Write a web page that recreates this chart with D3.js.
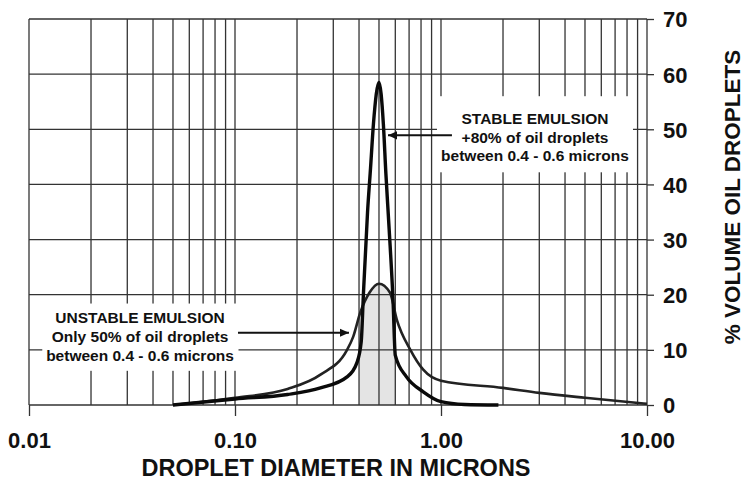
<!DOCTYPE html>
<html lang="en">
<head>
  <meta charset="UTF-8" />
  <title>Droplet size distribution</title>
  <style>
  body {
    margin: 0;
    background: #fff;
  }
  svg {
    display: block;
    font-family: "Liberation Sans", Arial, Helvetica, sans-serif;
    font-weight: bold;
  }
  </style>
  <script src="https://d3js.org/d3.v7.min.js"></script>
</head>
<body>
  <div id="chart"></div>
  <script>
    // Axis ticks
    const diameterTicks = [0.01, 0.1, 1, 10];
    const diameterLabels = ["0.01", "0.10", "1.00", "10.00"];
    const volumeTicks = [0, 10, 20, 30, 40, 50, 60, 70];

    // Stable emulsion curve
    const stableDiameter = [0.05, 0.1, 0.18, 0.26, 0.35, 0.39, 0.41, 0.42, 0.44, 0.455, 0.47, 0.5, 0.525, 0.54, 0.56, 0.585, 0.6, 0.68, 0.82, 1.0, 1.3, 1.9];
    const stableVolume = [0, 1.1, 1.9, 3.1, 5.1, 7.6, 11.5, 20, 35, 43, 51, 58.5, 51, 42, 32, 19, 9, 5.1, 2.4, 0.6, 0.1, 0];

    // Unstable emulsion curve
    const unstableDiameter = [0.05, 0.1, 0.18, 0.26, 0.35, 0.375, 0.405, 0.45, 0.5, 0.565, 0.61, 0.71, 0.82, 1.0, 2.0, 3.0, 5.0, 10];
    const unstableVolume = [0, 1.3, 2.9, 5.5, 10, 12.4, 16.7, 20.4, 22, 20.4, 15.5, 10, 6.4, 4.4, 3.1, 2.2, 1.3, 0.2];

    // Shaded band
    const bandRange = [0.4, 0.6];

    // Annotations (positions in data units)
    const stableNote = ["STABLE EMULSION", "+80% of oil droplets", "between 0.4 - 0.6 microns"];
    const unstableNote = ["UNSTABLE EMULSION", "Only 50% of oil droplets", "between 0.4 - 0.6 microns"];
    const notes = [
      { lines: stableNote, textX: 2.86, textY: 47.6, box: [0.956, 8.55, 56, 42.2], arrow: [1.13, 0.553, 48.9] },
      { lines: unstableNote, textX: 0.0346, textY: 11.45, box: [0.0116, 0.104, 18.4, 6.2], arrow: [0.1034, 0.3575, 13.1] }
    ];

    const width = 745, height = 481;
    const margin = { top: 19, right: 98, bottom: 76, left: 29 };

    const svg = d3.select("#chart").append("svg")
      .attr("width", width)
      .attr("height", height);

    const x = d3.scaleLog()
      .domain([0.01, 10])
      .range([margin.left, width - margin.right]);

    const y = d3.scaleLinear()
      .domain([0, 70])
      .range([height - margin.bottom, margin.top]);

    const stable = stableDiameter.map((d, i) => [d, stableVolume[i]]);
    const unstable = unstableDiameter.map((d, i) => [d, unstableVolume[i]]);

    const line = d3.line()
      .x(d => x(d[0]))
      .y(d => y(d[1]))
      .curve(d3.curveMonotoneX);

    const area = d3.area()
      .x(d => x(d[0]))
      .y0(y(0))
      .y1(d => y(d[1]))
      .curve(d3.curveMonotoneX);

    // Shaded 0.4 - 0.6 band under the unstable curve
    svg.append("clipPath").attr("id", "band")
      .append("rect")
      .attr("x", x(bandRange[0]))
      .attr("width", x(bandRange[1]) - x(bandRange[0]))
      .attr("y", y(70))
      .attr("height", y(0) - y(70));

    svg.append("path")
      .datum(unstable)
      .attr("clip-path", "url(#band)")
      .attr("d", area)
      .attr("fill", "#e4e4e4");

    // Log grid
    const gridX = [];
    [0.01, 0.1, 1].forEach(dec => d3.range(1, 10).forEach(k => gridX.push(dec * k)));
    gridX.push(10);

    const grid = svg.append("g")
      .attr("stroke", "#333")
      .attr("stroke-width", 1.3);

    grid.selectAll(".vgrid")
      .data(gridX)
      .enter().append("line")
      .attr("class", "vgrid")
      .attr("x1", d => x(d))
      .attr("x2", d => x(d))
      .attr("y1", y(70))
      .attr("y2", y(0));

    grid.selectAll(".hgrid")
      .data(volumeTicks)
      .enter().append("line")
      .attr("class", "hgrid")
      .attr("x1", x(0.01))
      .attr("x2", x(10))
      .attr("y1", d => y(d))
      .attr("y2", d => y(d));

    // White label boxes over the grid
    svg.selectAll(".note-box")
      .data(notes)
      .enter().append("rect")
      .attr("class", "note-box")
      .attr("x", d => x(d.box[0]))
      .attr("width", d => x(d.box[1]) - x(d.box[0]))
      .attr("y", d => y(d.box[2]))
      .attr("height", d => y(d.box[3]) - y(d.box[2]))
      .attr("fill", "#fff");

    // Axes
    const xAxis = svg.append("g")
      .attr("transform", `translate(0,${y(0)})`)
      .call(d3.axisBottom(x)
        .tickValues(diameterTicks)
        .tickFormat((d, i) => diameterLabels[i])
        .tickSize(11)
        .tickPadding(16));
    xAxis.select(".domain").remove();
    xAxis.selectAll("line").attr("stroke", "#333").attr("stroke-width", 1.3);
    xAxis.selectAll("text")
      .attr("fill", "#111")
      .style("font-family", "'Liberation Sans', Arial, sans-serif")
      .style("font-weight", "bold")
      .style("font-size", "22px");

    const yAxis = svg.append("g")
      .attr("transform", `translate(${x(10)},0)`)
      .call(d3.axisRight(y)
        .tickValues(volumeTicks)
        .tickSize(7)
        .tickPadding(9));
    yAxis.select(".domain").remove();
    yAxis.selectAll("line").attr("stroke", "#333").attr("stroke-width", 1.3);
    yAxis.selectAll("text")
      .attr("fill", "#111")
      .attr("dy", "0.36em")
      .style("font-family", "'Liberation Sans', Arial, sans-serif")
      .style("font-weight", "bold")
      .style("font-size", "22px");

    // Curves
    svg.append("path")
      .datum(unstable)
      .attr("d", line)
      .attr("fill", "none")
      .attr("stroke", "#222")
      .attr("stroke-width", 2.6);

    svg.append("path")
      .datum(stable)
      .attr("d", line)
      .attr("fill", "none")
      .attr("stroke", "#0a0a0a")
      .attr("stroke-width", 3.4)
      .attr("stroke-linejoin", "round");

    // Arrows
    svg.append("defs").append("marker")
      .attr("id", "head")
      .attr("viewBox", "0 -5 10 10")
      .attr("refX", 10)
      .attr("markerUnits", "userSpaceOnUse")
      .attr("markerWidth", 10)
      .attr("markerHeight", 9)
      .attr("orient", "auto")
      .append("path")
      .attr("d", "M0,-4.5L10,0L0,4.5Z")
      .attr("fill", "#111");

    svg.selectAll(".note-arrow")
      .data(notes)
      .enter().append("line")
      .attr("class", "note-arrow")
      .attr("x1", d => x(d.arrow[0]))
      .attr("x2", d => x(d.arrow[1]))
      .attr("y1", d => y(d.arrow[2]))
      .attr("y2", d => y(d.arrow[2]))
      .attr("stroke", "#111")
      .attr("stroke-width", 2)
      .attr("marker-end", "url(#head)");

    // Annotation text
    notes.forEach(n => {
      svg.append("g")
        .selectAll("text")
        .data(n.lines)
        .enter().append("text")
        .attr("x", x(n.textX))
        .attr("y", (d, i) => y(n.textY) + (i - 1) * 18.8)
        .attr("text-anchor", "middle")
        .attr("fill", "#111")
        .style("font-size", "15.5px")
        .text(d => d);
    });

    // Axis titles
    svg.append("text")
      .attr("x", 336)
      .attr("y", 476)
      .attr("text-anchor", "middle")
      .attr("fill", "#111")
      .style("font-size", "23.5px")
      .text("DROPLET DIAMETER IN MICRONS");

    svg.append("text")
      .attr("transform", "translate(740,197) rotate(-90)")
      .attr("text-anchor", "middle")
      .attr("fill", "#111")
      .style("font-size", "22.5px")
      .text("% VOLUME OIL DROPLETS");
  </script>
</body>
</html>
